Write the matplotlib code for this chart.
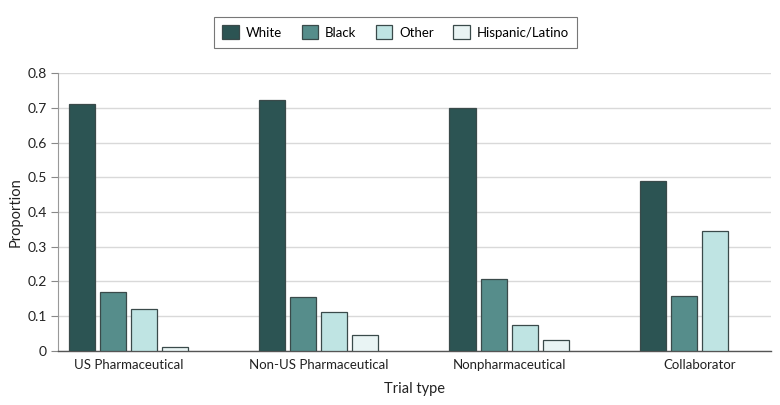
import numpy as np
import matplotlib
matplotlib.use("Agg")
import matplotlib.pyplot as plt

plt.rcParams["font.family"] = ["Lato", "DejaVu Sans"]

# ── Dados ────────────────────────────────────────────────
trial_types = ["US Pharmaceutical", "Non-US Pharmaceutical", "Nonpharmaceutical", "Collaborator"]
white    = [0.711, 0.722, 0.700, 0.489]
black    = [0.168, 0.156, 0.208, 0.159]
other    = [0.119, 0.113, 0.075, 0.346]
hispanic = [0.010, 0.046, 0.032, np.nan]

series = [("White", white, "#2c5453"),
          ("Black", black, "#568d8b"),
          ("Other", other, "#bfe4e3"),
          ("Hispanic/Latino", hispanic, "#e9f4f4")]

fig = plt.figure(figsize=(7.8, 4.05), dpi=100)
ax = fig.add_axes([0.074, 0.134, 0.914, 0.685])

x = np.arange(len(trial_types))
step = 0.163
width = 0.137
for i, (name, vals, color) in enumerate(series):
    ax.bar(x + (i - 1.5) * step, vals, width=width, color=color,
           edgecolor="#3a4a4a", linewidth=0.9, label=name, zorder=3)

ax.set_xlim(-0.371, 3.374)
ax.set_ylim(0, 0.8)
ax.set_yticks(np.arange(0, 0.81, 0.1))
ax.set_yticklabels(["0"] + [f"{v:.1f}" for v in np.arange(0.1, 0.81, 0.1)])
ax.set_xticks(x)
ax.set_xticklabels(trial_types)
ax.tick_params(axis="x", length=0, pad=6, labelsize=9.5, colors="#222222")
ax.tick_params(axis="y", length=5, width=0.8, color="#888888", labelsize=10,
               colors="#222222", pad=3)

ax.grid(True, axis="y", color="#d9d9d9", linewidth=1.0, zorder=0)
for s in ["top", "right"]:
    ax.spines[s].set_visible(False)
ax.spines["left"].set_color("#999999")
ax.spines["left"].set_linewidth(0.8)
ax.spines["bottom"].set_color("#555555")
ax.spines["bottom"].set_linewidth(1.0)

ax.set_ylabel("Proportion", fontsize=10.5, color="#222222", labelpad=3)
ax.set_xlabel("Trial type", fontsize=10.5, color="#222222", labelpad=8)

leg = fig.legend(loc="upper center", bbox_to_anchor=(0.507, 0.975), ncol=4,
                 frameon=True, fancybox=False, edgecolor="#555555",
                 fontsize=9.5, handlelength=1.25, handleheight=1.25,
                 columnspacing=1.5, handletextpad=0.5, borderpad=0.65)
leg.get_frame().set_linewidth(0.8)

fig.savefig("out.png", dpi=100, facecolor="white")
